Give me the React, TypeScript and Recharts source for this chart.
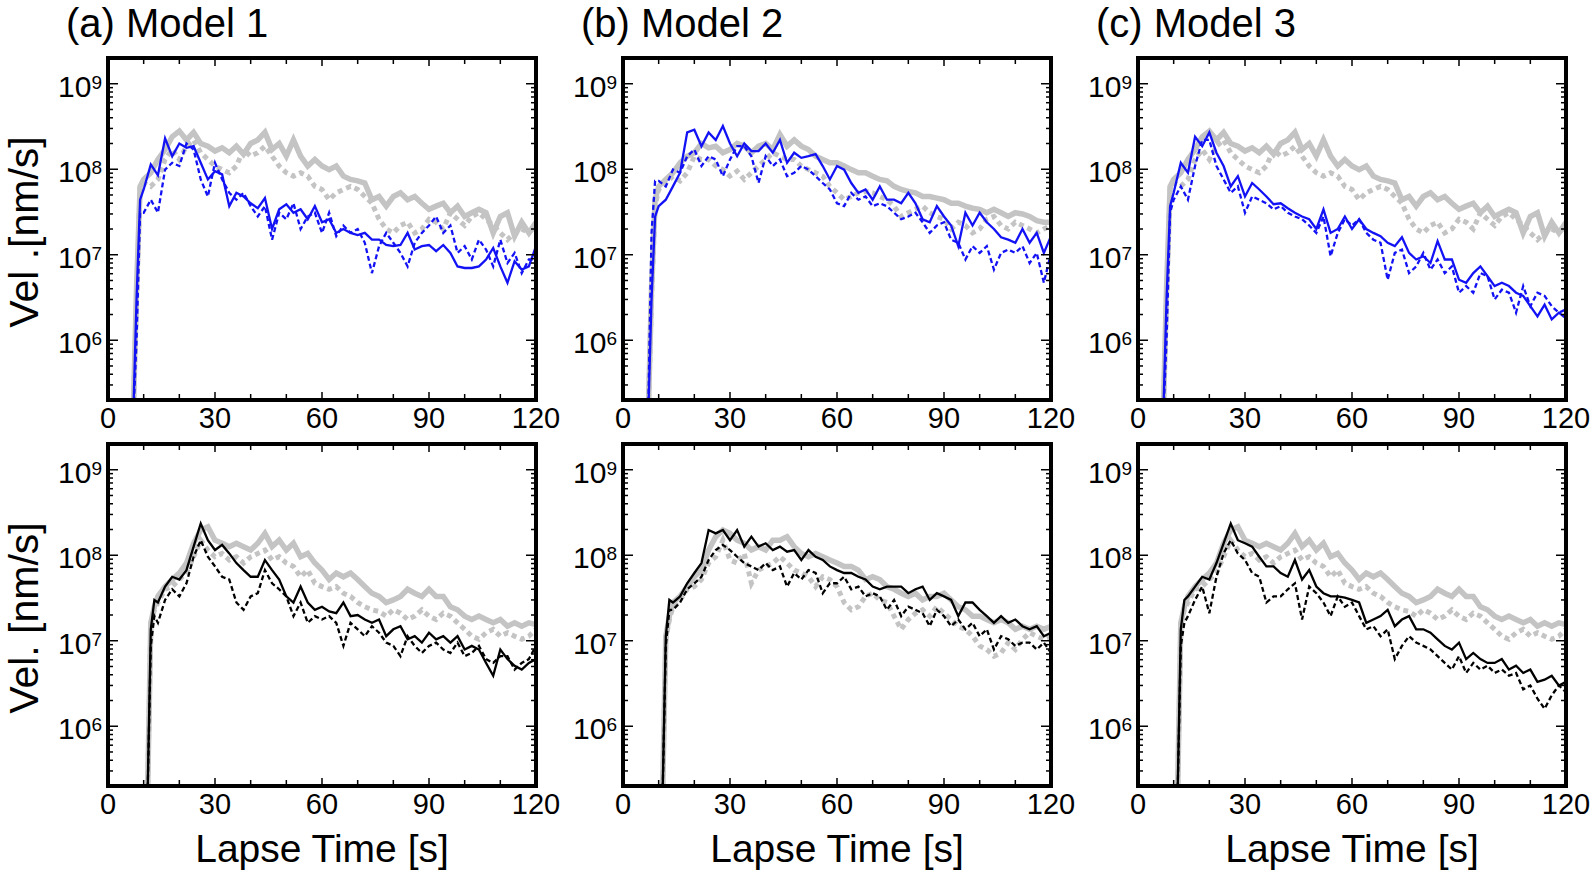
import React from "react";
import { LineChart, Line, XAxis, YAxis } from "recharts";

const FONT = '"Liberation Sans", Arial, Helvetica, sans-serif';
const GRAY = "#c4c4c4";
const BLUE = "#1212f5";
const BLACK = "#000000";

// lapse times [s]
const TOP_T = [
  7, 8, 9, 10, 12, 14, 16, 18, 20, 22,
  24, 26, 28, 30, 32, 34, 36, 38, 40, 42,
  44, 46, 48, 50, 52, 54, 56, 58, 60, 62,
  64, 66, 68, 70, 72, 74, 76, 78, 80, 82,
  84, 86, 88, 90, 92, 94, 96, 98, 100, 102,
  104, 106, 108, 110, 112, 114, 116, 118, 120,
];
const BOT_T = [
  11, 12, 13, 14, 16, 18, 20, 22, 24, 26,
  28, 30, 32, 34, 36, 38, 40, 42, 44, 46,
  48, 50, 52, 54, 56, 58, 60, 62, 64, 66,
  68, 70, 72, 74, 76, 78, 80, 82, 84, 86,
  88, 90, 92, 94, 96, 98, 100, 102, 104, 106,
  108, 110, 112, 114, 116, 118, 120,
];

// top row, velocity [nm/s]
const obsTopAC = [
  1e5, 4e6, 6.3e7, 7.6e7, 9.1e7, 1.3e8, 1.7e8, 2.4e8, 2.8e8, 2.2e8,
  2.7e8, 2.0e8, 1.86e8, 1.63e8, 1.78e8, 1.56e8, 1.86e8, 1.5e8, 2.0e8, 2.2e8,
  2.7e8, 1.7e8, 2.0e8, 1.42e8, 2.2e8, 1.42e8, 1.09e8, 1.3e8, 1.09e8, 9.9e7,
  1.09e8, 8.3e7, 7.6e7, 7.3e7, 6.9e7, 4.4e7, 4.8e7, 3.7e7, 4.8e7, 5.3e7,
  4.4e7, 4.8e7, 4.0e7, 3.4e7, 3.7e7, 4.0e7, 3.1e7, 3.7e7, 2.8e7, 3.1e7,
  3.4e7, 3.1e7, 1.8e7, 2.8e7, 3.1e7, 1.65e7, 2.4e7, 1.8e7, 2.4e7,
];
const obsTopACDash = [
  1e5, 3e6, 6.3e7, 6.9e7, 6.3e7, 7.6e7, 1.3e8, 1.7e8, 1.3e8, 1.86e8,
  2.2e8, 1.56e8, 1.3e8, 1.09e8, 9.9e7, 9.1e7, 1.09e8, 1.7e8, 1.42e8, 1.56e8,
  1.86e8, 1.42e8, 1.09e8, 9.1e7, 8.3e7, 9.1e7, 8.3e7, 6.3e7, 5.8e7, 4.4e7,
  5.3e7, 5.8e7, 6.3e7, 5.8e7, 4.8e7, 4.0e7, 2.6e7, 2.0e7, 1.8e7, 2.2e7,
  2.4e7, 1.8e7, 2.0e7, 2.6e7, 2.4e7, 2.0e7, 3.1e7, 2.6e7, 2.2e7, 2.8e7,
  3.1e7, 2.6e7, 2.2e7, 1.8e7, 1.5e7, 1.8e7, 2.0e7, 1.8e7, 2.2e7,
];
const obsTopB = [
  1e5, 4e6, 4.4e7, 6.3e7, 7.6e7, 9.1e7, 1.19e8, 1.42e8, 1.56e8, 2.0e8,
  1.78e8, 1.86e8, 1.56e8, 1.7e8, 2.0e8, 1.86e8, 1.56e8, 1.86e8, 2.0e8, 1.7e8,
  2.55e8, 1.86e8, 2.2e8, 1.86e8, 1.7e8, 1.42e8, 1.3e8, 1.19e8, 1.19e8, 1.09e8,
  9.9e7, 9.1e7, 9.1e7, 8.3e7, 7.6e7, 7.3e7, 6.3e7, 5.8e7, 5.5e7, 5.3e7,
  4.8e7, 4.8e7, 4.6e7, 4.4e7, 4.0e7, 4.0e7, 3.7e7, 3.5e7, 3.4e7, 3.1e7,
  3.4e7, 3.1e7, 2.8e7, 3.1e7, 3.0e7, 2.8e7, 2.5e7, 2.4e7, 2.4e7,
];
const obsTopBDash = [
  1e5, 3e6, 3.7e7, 5.8e7, 6.9e7, 8.3e7, 7.3e7, 9.1e7, 1.42e8, 1.3e8,
  1.3e8, 1.09e8, 9.9e7, 8.3e7, 9.5e7, 7.6e7, 9.1e7, 1.09e8, 1.3e8, 1.56e8,
  1.42e8, 1.3e8, 1.3e8, 1.09e8, 9.9e7, 9.1e7, 8.3e7, 6.3e7, 5.3e7, 4.4e7,
  4.8e7, 5.3e7, 5.5e7, 5.3e7, 4.8e7, 4.4e7, 3.7e7, 2.8e7, 3.1e7, 3.4e7,
  3.7e7, 3.1e7, 2.8e7, 2.6e7, 2.0e7, 2.4e7, 2.2e7, 1.8e7, 2.0e7, 2.6e7,
  2.8e7, 2.2e7, 2.0e7, 2.4e7, 2.2e7, 2.0e7, 1.8e7, 2.0e7, 2.2e7,
];
const simTopA = [
  1e5, 3.0e6, 4.4e7, 5.8e7, 1.14e8, 8.5e7, 2.3e8, 1.42e8, 2.0e8, 1.78e8,
  1.86e8, 1.19e8, 7.6e7, 9.5e7, 8.7e7, 3.7e7, 5.3e7, 4.8e7, 4.0e7, 3.5e7,
  4.6e7, 2.0e7, 3.4e7, 3.9e7, 3.1e7, 3.4e7, 2.6e7, 3.7e7, 2.4e7, 2.6e7,
  1.8e7, 2.0e7, 1.8e7, 1.7e7, 1.8e7, 1.5e7, 1.5e7, 1.3e7, 1.26e7, 1.3e7,
  1.8e7, 1.15e7, 1.26e7, 1.3e7, 1.1e7, 1.3e7, 1.05e7, 7.3e6, 7.0e6, 7.0e6,
  7.3e6, 8.8e6, 1.2e7, 7.3e6, 4.7e6, 8.4e6, 6.7e6, 7.3e6, 1.26e7,
];
const simTopADash = [
  1e5, 1e6, 3.1e7, 3.1e7, 4.4e7, 3.1e7, 9.9e7, 1.19e8, 1.09e8, 2.0e8,
  1.7e8, 7.6e7, 4.8e7, 1.19e8, 7.6e7, 5.3e7, 4.4e7, 5.3e7, 3.7e7, 2.8e7,
  3.7e7, 1.5e7, 3.1e7, 2.6e7, 4.0e7, 2.0e7, 2.8e7, 3.1e7, 1.8e7, 3.1e7,
  1.65e7, 2.2e7, 1.8e7, 2.0e7, 1.38e7, 6.1e6, 1.26e7, 1.8e7, 1.38e7, 1.05e7,
  7.3e6, 1.38e7, 1.8e7, 2.2e7, 2.8e7, 1.8e7, 2.2e7, 1.05e7, 1.26e7, 8.8e6,
  1.5e7, 1.15e7, 7.3e6, 1.5e7, 8.0e6, 1.05e7, 6.1e6, 8.8e6, 8.8e6,
];
const simTopB = [
  1e5, 3.0e6, 2.8e7, 3.7e7, 4.4e7, 6.3e7, 9.1e7, 2.7e8, 2.9e8, 1.86e8,
  2.7e8, 2.2e8, 3.2e8, 2.0e8, 1.42e8, 2.0e8, 1.63e8, 1.63e8, 2.0e8, 1.56e8,
  2.2e8, 1.19e8, 1.56e8, 1.36e8, 1.42e8, 1.5e8, 1.09e8, 7.6e7, 1.09e8, 9.9e7,
  6.9e7, 5.3e7, 5.8e7, 4.4e7, 6.3e7, 4.4e7, 4.4e7, 4.0e7, 5.3e7, 4.0e7,
  2.6e7, 2.4e7, 3.7e7, 2.8e7, 2.2e7, 1.26e7, 3.1e7, 2.2e7, 3.1e7, 2.4e7,
  2.0e7, 1.6e7, 1.5e7, 1.38e7, 2.0e7, 1.38e7, 1.8e7, 1.05e7, 1.65e7,
];
const simTopBDash = [
  1e5, 1.8e7, 7.3e7, 7.3e7, 6.3e7, 9.9e7, 9.1e7, 1.42e8, 1.7e8, 1.09e8,
  1.42e8, 1.3e8, 8.3e7, 1.3e8, 1.86e8, 1.86e8, 1.42e8, 6.9e7, 1.42e8, 1.09e8,
  1.3e8, 8.3e7, 9.1e7, 1.09e8, 9.9e7, 8.3e7, 6.9e7, 5.8e7, 4.0e7, 3.7e7,
  5.3e7, 4.4e7, 4.8e7, 3.7e7, 4.0e7, 3.7e7, 3.1e7, 2.6e7, 2.8e7, 3.1e7,
  2.4e7, 1.8e7, 2.2e7, 2.4e7, 1.5e7, 1.38e7, 8.8e6, 1.26e7, 1.05e7, 1.26e7,
  6.7e6, 1.05e7, 1.15e7, 1.05e7, 1.26e7, 8.0e6, 1.05e7, 4.7e6, 1.05e7,
];
const simTopC = [
  1e5, 3.0e6, 3.7e7, 5.3e7, 1.19e8, 9.1e7, 2.4e8, 1.86e8, 2.7e8, 1.56e8,
  1.09e8, 6.3e7, 8.3e7, 4.8e7, 6.9e7, 5.8e7, 4.8e7, 3.9e7, 4.0e7, 3.5e7,
  3.1e7, 2.8e7, 2.6e7, 2.0e7, 3.4e7, 1.8e7, 2.0e7, 2.8e7, 2.0e7, 2.6e7,
  2.0e7, 1.8e7, 1.65e7, 1.38e7, 1.26e7, 1.6e7, 1.05e7, 8.8e6, 9.6e6, 8.0e6,
  1.44e7, 8.8e6, 8.8e6, 5.1e6, 4.7e6, 6.1e6, 7.3e6, 5.6e6, 4.3e6, 4.7e6,
  4.3e6, 3.6e6, 3.3e6, 2.5e6, 1.9e6, 2.6e6, 1.75e6, 2.1e6, 1.8e6,
];
const simTopCDash = [
  1e5, 1e6, 3.1e7, 4.4e7, 6.3e7, 4.4e7, 1.09e8, 2.2e8, 2.2e8, 1.09e8,
  7.6e7, 5.3e7, 6.3e7, 3.1e7, 4.8e7, 4.4e7, 4.0e7, 3.4e7, 3.7e7, 3.1e7,
  2.8e7, 2.6e7, 2.2e7, 1.8e7, 2.8e7, 9.6e6, 1.8e7, 2.6e7, 2.2e7, 2.6e7,
  1.8e7, 1.5e7, 1.38e7, 5.1e6, 1.05e7, 1.15e7, 6.1e6, 7.3e6, 1.05e7, 6.7e6,
  8.8e6, 6.1e6, 7.3e6, 3.6e6, 4.3e6, 3.6e6, 6.1e6, 5.6e6, 3.0e6, 3.9e6,
  3.6e6, 2.1e6, 4.3e6, 2.5e6, 3.6e6, 3.3e6, 2.5e6, 2.1e6, 2.3e6,
];

// bottom row, velocity [nm/s]
const obsBotAC = [
  1e5, 1.62e7, 2.5e7, 3.3e7, 4.3e7, 5.2e7, 6.2e7, 8.1e7, 1.38e8, 1.97e8,
  2.15e8, 1.5e8, 1.38e8, 1.26e8, 1.38e8, 1.26e8, 1.15e8, 1.38e8, 1.8e8, 1.26e8,
  1.5e8, 1.15e8, 1.38e8, 9.6e7, 1.05e8, 8.1e7, 6.7e7, 5.2e7, 6.2e7, 5.6e7,
  6.2e7, 5.2e7, 4.3e7, 3.6e7, 3.3e7, 2.8e7, 3.0e7, 3.3e7, 4.0e7, 3.6e7,
  3.3e7, 4.0e7, 3.3e7, 3.3e7, 2.5e7, 2.3e7, 1.94e7, 1.77e7, 1.94e7, 1.77e7,
  1.62e7, 1.77e7, 1.48e7, 1.62e7, 1.48e7, 1.62e7, 1.55e7,
];
const obsBotACDash = [
  1e5, 1.48e7, 2.3e7, 2.8e7, 4.0e7, 4.3e7, 5.2e7, 6.2e7, 9.6e7, 1.5e8,
  1.15e8, 9.6e7, 1.05e8, 8.8e7, 9.6e7, 8.1e7, 9.6e7, 1.05e8, 1.15e8, 8.8e7,
  9.6e7, 8.1e7, 7.4e7, 5.6e7, 6.7e7, 4.7e7, 4.3e7, 4.0e7, 4.3e7, 3.6e7,
  3.3e7, 2.8e7, 2.5e7, 2.3e7, 2.2e7, 1.94e7, 2.3e7, 2.1e7, 1.77e7, 1.94e7,
  2.3e7, 1.94e7, 1.77e7, 2.1e7, 1.94e7, 1.62e7, 1.36e7, 1.13e7, 1.04e7, 1.24e7,
  1.36e7, 1.13e7, 1.24e7, 1.13e7, 1.04e7, 1.13e7, 1.36e7,
];
const obsBotB = [
  1e5, 1.13e7, 1.94e7, 2.8e7, 3.3e7, 4.3e7, 5.6e7, 6.7e7, 1.15e8, 1.65e8,
  1.97e8, 1.8e8, 1.5e8, 1.38e8, 1.15e8, 1.26e8, 1.15e8, 1.5e8, 1.5e8, 1.65e8,
  1.26e8, 1.05e8, 9.6e7, 1.05e8, 9.6e7, 8.8e7, 8.1e7, 7.4e7, 7.4e7, 6.7e7,
  5.2e7, 5.6e7, 5.2e7, 4.3e7, 4.0e7, 3.6e7, 3.3e7, 3.6e7, 3.0e7, 3.3e7,
  3.3e7, 3.6e7, 3.0e7, 2.5e7, 2.3e7, 1.94e7, 1.94e7, 1.77e7, 1.62e7, 1.77e7,
  1.62e7, 1.36e7, 1.48e7, 1.36e7, 1.48e7, 1.36e7, 1.48e7,
];
const obsBotBDash = [
  1e5, 1.04e7, 1.77e7, 2.5e7, 3.0e7, 4.0e7, 4.3e7, 5.2e7, 8.1e7, 9.6e7,
  1.5e8, 8.8e7, 8.1e7, 1.05e8, 4.7e7, 6.7e7, 7.4e7, 8.1e7, 9.6e7, 8.1e7,
  6.7e7, 6.2e7, 5.6e7, 4.3e7, 5.6e7, 5.2e7, 4.3e7, 2.8e7, 2.3e7, 2.5e7,
  3.3e7, 3.6e7, 3.0e7, 2.8e7, 1.94e7, 1.36e7, 1.77e7, 2.1e7, 2.3e7, 1.94e7,
  2.5e7, 2.1e7, 1.77e7, 1.48e7, 1.36e7, 1.13e7, 8.7e6, 7.9e6, 6.6e6, 7.2e6,
  9.5e6, 7.9e6, 1.04e7, 1.24e7, 1.13e7, 1.04e7, 1.13e7,
];
const simBotA = [
  1e5, 1.36e7, 3.0e7, 2.8e7, 4.3e7, 5.6e7, 5.2e7, 6.7e7, 1.26e8, 2.35e8,
  1.5e8, 1.15e8, 1.32e8, 1.05e8, 8.1e7, 6.7e7, 5.6e7, 5.6e7, 8.8e7, 6.7e7,
  5.2e7, 3.3e7, 2.8e7, 4.3e7, 2.8e7, 2.3e7, 2.5e7, 2.2e7, 2.1e7, 2.8e7,
  1.94e7, 2.0e7, 1.77e7, 1.62e7, 1.77e7, 1.13e7, 1.36e7, 1.48e7, 1.04e7, 1.13e7,
  9.5e6, 1.24e7, 1.04e7, 1.13e7, 9.5e6, 1.13e7, 7.9e6, 8.7e6, 7.9e6, 5.5e6,
  3.9e6, 7.9e6, 6.1e6, 5.1e6, 4.6e6, 5.5e6, 6.1e6,
];
const simBotADash = [
  1e5, 8.7e6, 1.94e7, 1.62e7, 3.0e7, 4.0e7, 3.3e7, 4.7e7, 9.6e7, 1.5e8,
  9.6e7, 7.4e7, 5.6e7, 5.2e7, 2.8e7, 2.3e7, 3.3e7, 3.6e7, 6.7e7, 4.7e7,
  4.0e7, 3.3e7, 1.94e7, 2.8e7, 1.62e7, 1.94e7, 1.77e7, 1.94e7, 1.62e7, 8.7e6,
  1.62e7, 1.36e7, 1.13e7, 1.48e7, 1.24e7, 9.5e6, 8.7e6, 6.6e6, 1.13e7, 8.7e6,
  7.2e6, 8.7e6, 9.5e6, 7.9e6, 7.2e6, 9.5e6, 6.6e6, 7.2e6, 8.7e6, 6.1e6,
  5.5e6, 6.6e6, 6.6e6, 4.6e6, 5.5e6, 6.1e6, 8.7e6,
];
const simBotB = [
  1e5, 1.13e7, 3.0e7, 2.8e7, 3.3e7, 4.7e7, 6.2e7, 8.1e7, 1.97e8, 1.8e8,
  1.97e8, 1.5e8, 1.97e8, 1.26e8, 1.65e8, 1.26e8, 1.38e8, 1.15e8, 1.26e8, 1.1e8,
  1.15e8, 8.8e7, 1.15e8, 9.6e7, 8.8e7, 7.4e7, 6.7e7, 6.2e7, 6.2e7, 5.6e7,
  5.2e7, 4.3e7, 4.0e7, 4.3e7, 4.3e7, 4.3e7, 3.6e7, 4.0e7, 4.3e7, 3.0e7,
  3.6e7, 3.3e7, 3.0e7, 1.94e7, 2.8e7, 2.8e7, 2.3e7, 1.94e7, 1.62e7, 1.94e7,
  1.62e7, 1.77e7, 1.48e7, 1.36e7, 1.48e7, 1.13e7, 1.24e7,
];
const simBotBDash = [
  1e5, 8.7e6, 2.3e7, 2.3e7, 2.8e7, 4.0e7, 4.7e7, 5.6e7, 8.8e7, 1.15e8,
  1.32e8, 1.15e8, 9.6e7, 8.1e7, 7.4e7, 6.7e7, 8.1e7, 6.7e7, 7.4e7, 4.3e7,
  6.2e7, 5.2e7, 6.7e7, 6.2e7, 3.6e7, 4.7e7, 4.7e7, 5.6e7, 4.0e7, 4.3e7,
  3.3e7, 3.6e7, 3.3e7, 2.3e7, 3.0e7, 1.94e7, 2.5e7, 2.3e7, 2.1e7, 1.48e7,
  2.3e7, 1.94e7, 1.48e7, 1.77e7, 1.36e7, 1.62e7, 1.13e7, 1.36e7, 7.9e6, 1.13e7,
  1.04e7, 8.7e6, 9.5e6, 9.5e6, 7.9e6, 9.5e6, 7.2e6,
];
const simBotC = [
  1e5, 1.36e7, 3.0e7, 3.3e7, 4.3e7, 5.6e7, 5.2e7, 8.1e7, 1.38e8, 2.35e8,
  1.5e8, 1.38e8, 1.26e8, 9.6e7, 7.4e7, 7.4e7, 6.2e7, 5.6e7, 8.8e7, 5.2e7,
  6.7e7, 4.3e7, 3.6e7, 3.3e7, 3.3e7, 3.2e7, 3.0e7, 2.8e7, 1.62e7, 1.77e7,
  1.94e7, 2.3e7, 1.48e7, 1.77e7, 1.94e7, 1.36e7, 1.36e7, 1.24e7, 1.04e7, 8.7e6,
  7.9e6, 9.5e6, 6.1e6, 7.2e6, 6.1e6, 5.5e6, 5.5e6, 6.1e6, 4.6e6, 5.1e6,
  4.2e6, 4.6e6, 3.3e6, 3.5e6, 3.9e6, 3.0e6, 3.3e6,
];
const simBotCDash = [
  1e5, 8.7e6, 1.62e7, 1.94e7, 3.0e7, 4.3e7, 2.1e7, 5.6e7, 1.05e8, 1.5e8,
  1.05e8, 8.8e7, 6.2e7, 5.6e7, 2.8e7, 3.3e7, 3.3e7, 4.0e7, 4.7e7, 1.77e7,
  4.3e7, 3.6e7, 2.8e7, 1.94e7, 3.3e7, 2.5e7, 2.8e7, 1.94e7, 1.36e7, 1.48e7,
  1.13e7, 1.36e7, 6.1e6, 8.7e6, 1.13e7, 9.5e6, 8.7e6, 7.9e6, 6.6e6, 5.5e6,
  4.6e6, 6.6e6, 4.2e6, 5.5e6, 4.6e6, 5.1e6, 4.2e6, 4.6e6, 3.9e6, 4.2e6,
  2.7e6, 3.0e6, 2.1e6, 1.6e6, 2.3e6, 3.0e6, 2.5e6,
];

// axis ticks
const X_MAJOR = [0, 30, 60, 90, 120];
const X_MINOR = [10, 20, 40, 50, 70, 80, 100, 110];
const Y_DECADES = [1e6, 1e7, 1e8, 1e9];
const Y_MINOR = [
  3e5, 4e5, 5e5, 6e5, 7e5, 8e5, 9e5,
  2e6, 3e6, 4e6, 5e6, 6e6, 7e6, 8e6, 9e6,
  2e7, 3e7, 4e7, 5e7, 6e7, 7e7, 8e7, 9e7,
  2e8, 3e8, 4e8, 5e8, 6e8, 7e8, 8e8, 9e8,
];
const X_TICKS = [...X_MAJOR, ...X_MINOR].sort((a, b) => a - b);
const Y_TICKS = [...Y_MINOR, ...Y_DECADES].sort((a, b) => a - b);
const Y_DOMAIN = [2e5, 2e9];

const TITLES = ["(a) Model 1", "(b) Model 2", "(c) Model 3"];
const Y_LABELS = ["Vel .[nm/s]", "Vel. [nm/s]"];
const X_LABEL = "Lapse Time [s]";

// plot area placement
const PLOT_W = 428;
const PLOT_H = 342;
const COL_X = [108, 623, 1138];
const ROW_Y = [58, 444];
const AXIS_W = 60;
const TOP_PAD = 11;

const PANELS = [
  { row: 0, col: 0, t: TOP_T, obs: obsTopAC, obsD: obsTopACDash, sim: simTopA, simD: simTopADash, color: BLUE },
  { row: 0, col: 1, t: TOP_T, obs: obsTopB, obsD: obsTopBDash, sim: simTopB, simD: simTopBDash, color: BLUE },
  { row: 0, col: 2, t: TOP_T, obs: obsTopAC, obsD: obsTopACDash, sim: simTopC, simD: simTopCDash, color: BLUE },
  { row: 1, col: 0, t: BOT_T, obs: obsBotAC, obsD: obsBotACDash, sim: simBotA, simD: simBotADash, color: BLACK },
  { row: 1, col: 1, t: BOT_T, obs: obsBotB, obsD: obsBotBDash, sim: simBotB, simD: simBotBDash, color: BLACK },
  { row: 1, col: 2, t: BOT_T, obs: obsBotAC, obsD: obsBotACDash, sim: simBotC, simD: simBotCDash, color: BLACK },
];

const LeftTick = (props: any) => {
  const { x, y, payload } = props;
  const major = Y_DECADES.includes(payload.value);
  const exp = Math.round(Math.log10(payload.value));
  return (
    <g>
      <line x1={x} x2={x + (major ? 10 : 5)} y1={y} y2={y} stroke="#000" strokeWidth={1.5} />
      {major && (
        <text x={x - 6} y={y + 13} textAnchor="end" fontFamily={FONT} fontSize={30} fill="#000">
          10<tspan dy={-8} fontSize={19}>{exp}</tspan>
        </text>
      )}
    </g>
  );
};

const RightTick = (props: any) => {
  const { x, y, payload } = props;
  const major = Y_DECADES.includes(payload.value);
  return <line x1={x} x2={x - (major ? 10 : 5)} y1={y} y2={y} stroke="#000" strokeWidth={1.5} />;
};

const BottomTick = (props: any) => {
  const { x, y, payload } = props;
  const major = X_MAJOR.includes(payload.value);
  return (
    <g>
      <line x1={x} x2={x} y1={y} y2={y - (major ? 8 : 6)} stroke="#000" strokeWidth={1.5} />
      {major && (
        <text x={x} y={y + 28} textAnchor="middle" fontFamily={FONT} fontSize={29} fill="#000">
          {payload.value}
        </text>
      )}
    </g>
  );
};

const TopTick = (props: any) => {
  const { x, y, payload } = props;
  const major = X_MAJOR.includes(payload.value);
  return <line x1={x} x2={x} y1={y} y2={y + (major ? 8 : 6)} stroke="#000" strokeWidth={1.5} />;
};

const frame = { stroke: "#000", strokeWidth: 4, strokeLinecap: "square" as const };

function Panel({ p }: { p: (typeof PANELS)[number] }) {
  const data = p.t.map((t, i) => ({ t, obs: p.obs[i], obsD: p.obsD[i], sim: p.sim[i], simD: p.simD[i] }));
  return (
    <div style={{ position: "absolute", left: COL_X[p.col] - AXIS_W, top: ROW_Y[p.row] - TOP_PAD }}>
      <LineChart
        width={AXIS_W + PLOT_W + 30}
        height={TOP_PAD + PLOT_H + 40}
        data={data}
        margin={{ top: TOP_PAD - 1, right: 0, bottom: 0, left: 0 }}
      >
        <XAxis xAxisId="t" dataKey="t" type="number" domain={[0, 120]} allowDataOverflow ticks={X_TICKS} interval={0}
          height={40} tickSize={0} tickMargin={0} tickLine={false} axisLine={frame} tick={BottomTick} />
        <XAxis xAxisId="tt" orientation="top" dataKey="t" type="number" domain={[0, 120]} allowDataOverflow ticks={X_TICKS}
          interval={0} height={1} tickSize={0} tickMargin={0} tickLine={false} axisLine={frame} tick={TopTick} />
        <YAxis yAxisId="v" scale="log" type="number" domain={Y_DOMAIN} allowDataOverflow ticks={Y_TICKS} interval={0}
          width={AXIS_W} tickSize={0} tickMargin={0} tickLine={false} axisLine={frame} tick={LeftTick} />
        <YAxis yAxisId="vr" orientation="right" scale="log" type="number" domain={Y_DOMAIN} allowDataOverflow ticks={Y_TICKS}
          interval={0} width={30} tickSize={0} tickMargin={0} tickLine={false} axisLine={frame} tick={RightTick} />
        <Line xAxisId="t" yAxisId="v" dataKey="obsD" type="linear" stroke={GRAY} strokeWidth={5} strokeDasharray="5 4"
          dot={false} isAnimationActive={false} />
        <Line xAxisId="t" yAxisId="v" dataKey="obs" type="linear" stroke={GRAY} strokeWidth={5.5}
          dot={false} isAnimationActive={false} />
        <Line xAxisId="t" yAxisId="v" dataKey="simD" type="linear" stroke={p.color} strokeWidth={2.3} strokeDasharray="5 3"
          dot={false} isAnimationActive={false} />
        <Line xAxisId="t" yAxisId="v" dataKey="sim" type="linear" stroke={p.color} strokeWidth={2.3}
          dot={false} isAnimationActive={false} />
      </LineChart>
    </div>
  );
}

export default function App() {
  return (
    <div style={{ position: "absolute", left: 0, top: 0, width: 1593, height: 878, background: "#fff" }}>
      {PANELS.map((p, i) => (
        <Panel key={i} p={p} />
      ))}
      <svg width={1593} height={878} style={{ position: "absolute", left: 0, top: 0, pointerEvents: "none" }}>
        {TITLES.map((title, i) => (
          <text key={title} x={COL_X[i] - 42} y={37} fontFamily={FONT} fontSize={40} fill="#000">
            {title}
          </text>
        ))}
        {COL_X.map((cx) => (
          <text key={cx} x={cx + PLOT_W / 2} y={862} textAnchor="middle" fontFamily={FONT} fontSize={39} fill="#000">
            {X_LABEL}
          </text>
        ))}
        {Y_LABELS.map((label, r) => (
          <text key={label} transform={`translate(38, ${ROW_Y[r] + PLOT_H / 2 + 3}) rotate(-90)`} textAnchor="middle"
            fontFamily={FONT} fontSize={41} fill="#000">
            {label}
          </text>
        ))}
      </svg>
    </div>
  );
}
